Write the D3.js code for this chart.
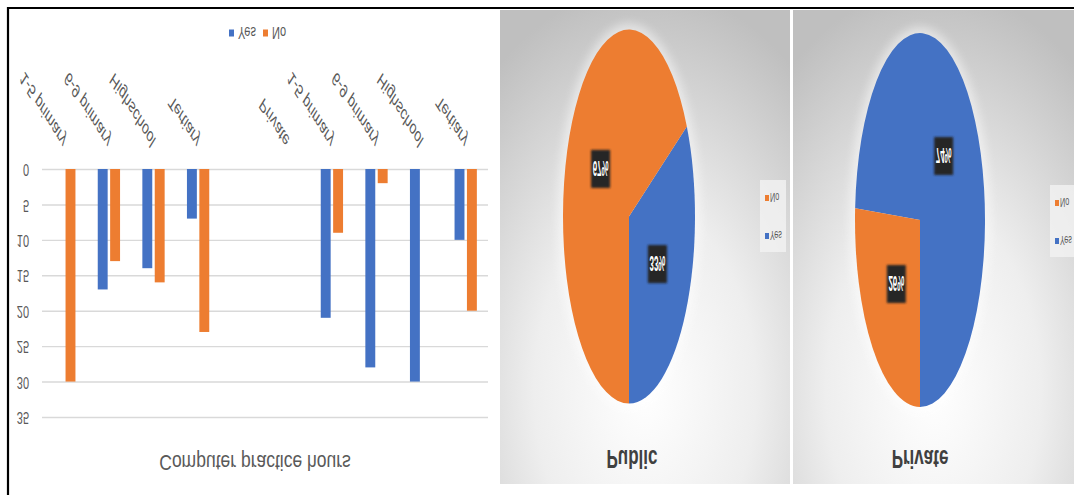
<!DOCTYPE html>
<html>
<head>
<meta charset="utf-8">
<script src="https://cdn.jsdelivr.net/npm/d3@7"></script>
<style>
  html, body { margin: 0; padding: 0; background: #fff; }
  svg { display: block; }
</style>
</head>
<body>
<svg id="chart" width="1074" height="495"></svg>
<script>
// ---- data ----
const categories = ["1-5 primary", "6-9 primary", "Highschool", "Tertiary", "", "Private",
                    "1-5 primary", "6-9 primary", "Highschool", "Tertiary"];
const seriesNames = ["Yes", "No"];
const yesValues = [0, 17, 14, 7, 0, 0, 21, 28, 30, 10];
const noValues  = [30, 13, 16, 23, 0, 0, 9, 2, 0, 20];
const yTicks = [0, 5, 10, 15, 20, 25, 30, 35];
const barTitle = "Computer practice hours";

const pieNames = ["Public", "Private"];
const publicShares = [33, 67];   // Yes, No (%)
const privateShares = [74, 26];  // Yes, No (%)

const colors = { Yes: "#4472C4", No: "#ED7D31" };
const textGray = "#595959";

const svg = d3.select("#chart");
const defs = svg.append("defs");

// soft filters
defs.append("filter").attr("id", "halo").attr("x", "-50%").attr("y", "-50%")
  .attr("width", "200%").attr("height", "200%")
  .append("feGaussianBlur").attr("stdDeviation", 5);
defs.append("filter").attr("id", "soft").attr("x", "-30%").attr("y", "-30%")
  .attr("width", "160%").attr("height", "160%")
  .append("feGaussianBlur").attr("stdDeviation", 1.2);

const bg = defs.append("radialGradient").attr("id", "panelBg")
  .attr("cx", 0.5).attr("cy", 0.8).attr("r", 0.85);
bg.append("stop").attr("offset", "0%").attr("stop-color", "#ffffff");
bg.append("stop").attr("offset", "45%").attr("stop-color", "#eeeeee");
bg.append("stop").attr("offset", "100%").attr("stop-color", "#bfbfbf");

// ================= bar chart (left panel) =================
const bar = svg.append("g").attr("font-family", "'Liberation Sans', Arial, sans-serif");

const x = d3.scaleBand().domain(d3.range(categories.length))
  .range([42, 488]).paddingInner(0.5).paddingOuter(0.25);
const x1 = d3.scaleBand().domain(seriesNames).range([0, x.bandwidth()]).paddingInner(0.2);
const y = d3.scaleLinear().domain([0, 35]).range([169, 417]);

// gridlines + value labels (whole drawing is mirrored top-to-bottom)
const yAxis = d3.axisLeft(y).tickValues(yTicks).tickSize(-(488 - 42)).tickPadding(13);
const gy = bar.append("g").attr("transform", "translate(42,0)").call(yAxis);
gy.select(".domain").remove();
gy.selectAll(".tick line").attr("stroke", "#d9d9d9").attr("stroke-width", 1.4);
gy.selectAll(".tick text")
  .attr("fill", textGray).attr("font-size", 11)
  .attr("transform", "scale(1,-1.5)");

// bars
const rows = categories.map((c, i) => ({ i, Yes: yesValues[i], No: noValues[i] }));
bar.append("g").selectAll("g").data(rows).join("g")
  .attr("transform", d => `translate(${x(d.i)},0)`)
  .selectAll("rect")
  .data(d => seriesNames.map(k => ({ key: k, value: d[k] })).filter(e => e.value > 0))
  .join("rect")
  .attr("x", d => x1(d.key))
  .attr("y", y(0))
  .attr("width", x1.bandwidth())
  .attr("height", d => y(d.value) - y(0))
  .attr("fill", d => colors[d.key]);

// category labels, slanted
bar.append("g").selectAll("text").data(categories).join("text")
  .attr("transform", (d, i) => `translate(${x(i) + x.bandwidth() / 2},144) scale(1,-1.6) rotate(-45)`)
  .attr("text-anchor", "end").attr("dy", "0.35em")
  .attr("font-size", 12).attr("fill", textGray)
  .text(d => d);

// legend
const leg = bar.append("g");
[["Yes", 229, 238], ["No", 263, 272]].forEach(([k, sx, tx]) => {
  leg.append("rect").attr("x", sx).attr("y", 29.5).attr("width", 5).attr("height", 7).attr("fill", colors[k]);
  leg.append("text").attr("transform", `translate(${tx},33) scale(1,-1.5)`)
    .attr("dy", "0.35em").attr("font-size", 11).attr("fill", textGray).text(k);
});

// axis title
bar.append("text").attr("transform", "translate(255,463) scale(1,-1.25)")
  .attr("text-anchor", "middle").attr("dy", "0.35em")
  .attr("font-size", 17.5).attr("fill", textGray).text(barTitle);

// ================= pie charts =================
const panels = [
  { name: pieNames[0], shares: publicShares, px: 500, pw: 290, cx: 629, cy: 216.5, rx: 66, ry: 187,
    legX: 760, legY: 180, titleX: 632 },
  { name: pieNames[1], shares: privateShares, px: 793, pw: 281, cx: 920, cy: 220, rx: 65, ry: 187,
    legX: 1050, legY: 185, titleX: 920 }
];

const pie = d3.pie().sort(null).value(d => d.value);
const R = 100;
const arc = d3.arc().innerRadius(0).outerRadius(R);

panels.forEach(p => {
  const g = svg.append("g").attr("font-family", "'Liberation Sans', Arial, sans-serif");
  g.append("rect").attr("x", p.px).attr("y", 10).attr("width", p.pw).attr("height", 474)
    .attr("fill", "url(#panelBg)");

  // glow behind the pie
  g.append("ellipse").attr("cx", p.cx).attr("cy", p.cy).attr("rx", p.rx + 5).attr("ry", p.ry + 6)
    .attr("fill", "#ffffff").attr("opacity", 0.5).attr("filter", "url(#halo)");

  const data = pie(seriesNames.map((k, i) => ({ key: k, value: p.shares[i] })));
  const sx = p.rx / R, sy = p.ry / R;
  g.append("g").attr("transform", `translate(${p.cx},${p.cy}) scale(${sx},${-sy})`)
    .selectAll("path").data(data).join("path")
    .attr("d", arc).attr("fill", d => colors[d.data.key]);

  // data labels
  data.forEach(d => {
    const c = arc.centroid(d);
    const lx = p.cx + c[0] * sx, ly = p.cy - c[1] * sy;
    g.append("rect").attr("x", lx - 9.5).attr("y", ly - 19).attr("width", 19).attr("height", 38)
      .attr("fill", "#262626").attr("filter", "url(#soft)");
    g.append("text").attr("transform", `translate(${lx},${ly}) scale(0.72,-2)`)
      .attr("text-anchor", "middle").attr("dy", "0.35em")
      .attr("font-size", 11).attr("font-weight", "bold").attr("fill", "#ffffff")
      .text(d.data.value + "%");
  });

  // legend (No listed above Yes in the mirrored drawing)
  g.append("rect").attr("x", p.legX).attr("y", p.legY).attr("width", 26).attr("height", 72)
    .attr("fill", "#f3f3f3").attr("opacity", 0.8);
  [["No", p.legY + 18], ["Yes", p.legY + 56]].forEach(([k, ly]) => {
    g.append("rect").attr("x", p.legX + 5).attr("y", ly - 3).attr("width", 4).attr("height", 6)
      .attr("fill", colors[k]);
    g.append("text").attr("transform", `translate(${p.legX + 10},${ly}) scale(0.8,-1.5)`)
      .attr("dy", "0.35em").attr("font-size", 9).attr("fill", textGray).text(k);
  });

  // chart title
  g.append("text").attr("transform", `translate(${p.titleX},459) scale(1,-1.5)`)
    .attr("text-anchor", "middle").attr("dy", "0.35em")
    .attr("font-size", 17).attr("font-weight", "bold").attr("fill", "#404040")
    .text(p.name);
});

// outer frame (top and left edges)
svg.append("path").attr("d", "M8,495 V8 H1074").attr("fill", "none")
  .attr("stroke", "#000").attr("stroke-width", 2.2);
</script>
</body>
</html>
